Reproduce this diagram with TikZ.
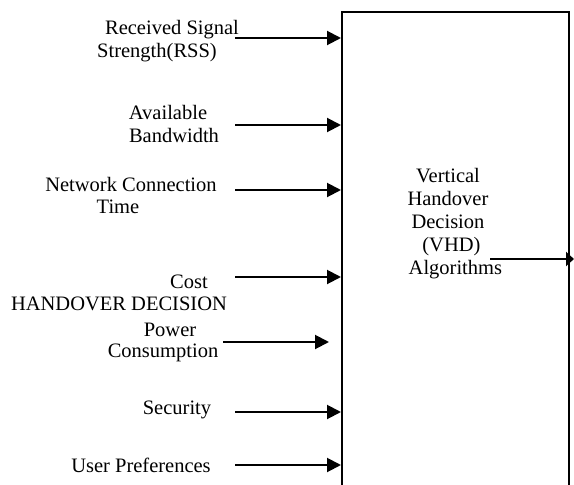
\documentclass[tikz,border=0pt]{standalone}
\usepackage{fontspec}
\setmainfont{Liberation Serif}
\usetikzlibrary{arrows.meta}
\begin{document}
\begin{tikzpicture}[x=1pt,y=-1pt,
  lbl/.style={font=\fontsize{20.5}{23}\selectfont, inner sep=0pt, align=center},
  arr/.style={line width=2pt, -{Triangle[length=14pt,width=14pt]}},
  boxline/.style={line width=2pt}]
\useasboundingbox (0,0) rectangle (574,485);
\clip (0,0) rectangle (574,485);
% box (open at bottom)
\node[boxline, draw, minimum width=227pt, minimum height=500pt, inner sep=0pt, anchor=north west] (box) at (341,11) {};
% labels
\node[lbl] (t1a) at (172,30) {Received Signal};
\node[lbl] (t1b) at (157,53) {Strength(RSS)};
\node[lbl] (t2a) at (168,112) {Available};
\node[lbl] (t2b) at (174,135) {Bandwidth};
\node[lbl] (t3a) at (131,184) {Network Connection};
\node[lbl] (t3b) at (118,207) {Time};
\node[lbl] (t4) at (189,282) {Cost};
\node[lbl] (t5) at (119,304) {HANDOVER DECISION};
\node[lbl] (t6a) at (170,330) {Power};
\node[lbl] (t6b) at (163,353) {Consumption};
\node[lbl] (t7) at (177,410) {Security};
\node[lbl] (t8) at (141,465) {User Preferences};
\node[lbl] (t9) at (448,224) {Vertical\\Handover\\Decision\\\hphantom{(}(VHD)\\\hphantom{A}Algorithms};
% arrow start points
\coordinate (s1) at (235,38);
\coordinate (s2) at (235,125);
\coordinate (s3) at (235,190);
\coordinate (s4) at (235,277);
\coordinate (s5) at (223,342);
\coordinate (e5) at (329,342);
\coordinate (s6) at (235,412);
\coordinate (s7) at (235,465);
\coordinate (s8) at (490,259);
\coordinate (e8) at (574,259);
\draw[arr] (s1) -- (s1 -| box.west);
\draw[arr] (s2) -- (s2 -| box.west);
\draw[arr] (s3) -- (s3 -| box.west);
\draw[arr] (s4) -- (s4 -| box.west);
\draw[arr] (s5) -- (e5);
\draw[arr] (s6) -- (s6 -| box.west);
\draw[arr] (s7) -- (s7 -| box.west);
\draw[line width=2pt, -{Triangle[length=8pt,width=14pt]}] (s8) -- (e8);
\end{tikzpicture}
\end{document}
